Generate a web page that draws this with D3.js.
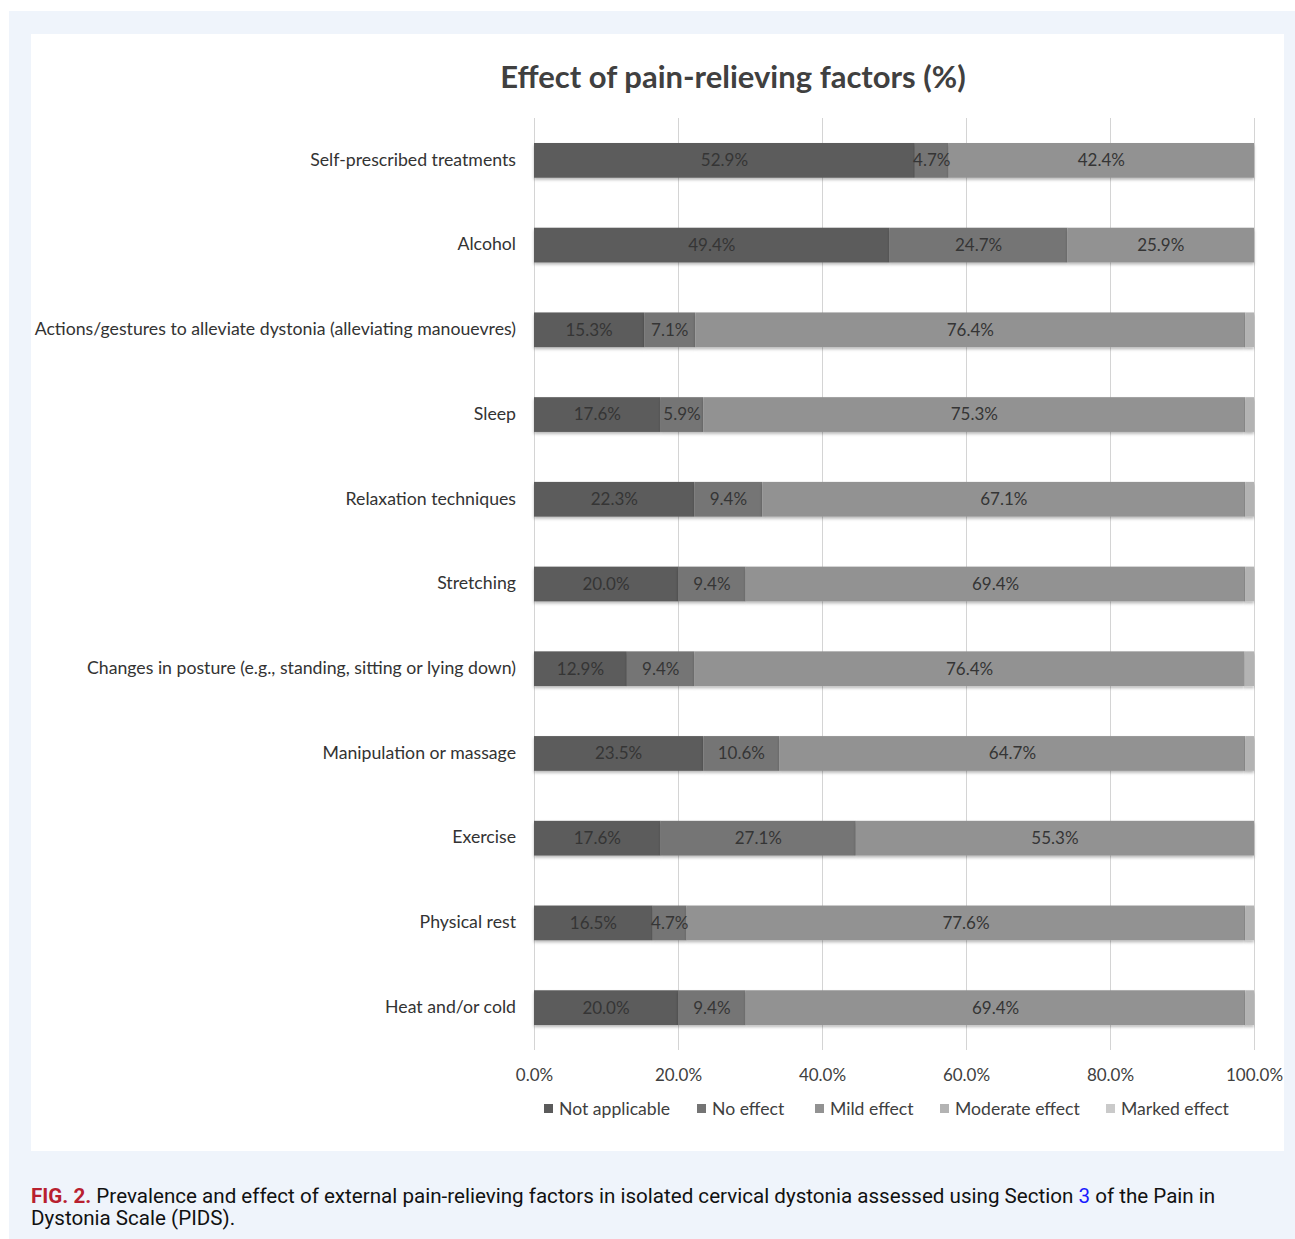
<!DOCTYPE html>
<html><head><meta charset="utf-8">
<script src="https://cdn.jsdelivr.net/npm/d3@7"></script>
<style>
html,body{margin:0;padding:0;background:#fff;}
svg{display:block;}
</style></head>
<body>
<svg id="chart" width="1295" height="1239"></svg>
<script>
const categories = [
  "Self-prescribed treatments",
  "Alcohol",
  "Actions/gestures to alleviate dystonia (alleviating manouevres)",
  "Sleep",
  "Relaxation techniques",
  "Stretching",
  "Changes in posture (e.g., standing, sitting or lying down)",
  "Manipulation or massage",
  "Exercise",
  "Physical rest",
  "Heat and/or cold"
];
const seriesNames = ["Not applicable","No effect","Mild effect","Moderate effect","Marked effect"];
const notApplicable = [52.9,49.4,15.3,17.6,22.3,20.0,12.9,23.5,17.6,16.5,20.0];
const noEffect      = [4.7,24.7,7.1,5.9,9.4,9.4,9.4,10.6,27.1,4.7,9.4];
const mildEffect    = [42.4,25.9,76.4,75.3,67.1,69.4,76.4,64.7,55.3,77.6,69.4];
const moderateEffect= [0,0,1.2,1.2,1.2,1.2,1.3,1.2,0,1.2,1.2];
const markedEffect  = [0,0,0,0,0,0,0,0,0,0,0];
const xTicks = [0,20,40,60,80,100];
const seriesColors = ["#5b5b5b","#747474","#929292","#b3b3b3","#cacaca"];

const rows = categories.map((c,i)=>({cat:c, "Not applicable":notApplicable[i], "No effect":noEffect[i],
  "Mild effect":mildEffect[i], "Moderate effect":moderateEffect[i], "Marked effect":markedEffect[i]}));

const svg = d3.select("#chart");
svg.append("rect").attr("x",9).attr("y",11).attr("width",1286).attr("height",1228).attr("fill","#eff4fb");
svg.append("rect").attr("x",31).attr("y",34).attr("width",1253).attr("height",1117).attr("fill","#ffffff");

const defs = svg.append("defs");
const f = defs.append("filter").attr("id","sh").attr("x","-5%").attr("y","-30%").attr("width","110%").attr("height","170%");
f.append("feDropShadow").attr("dx",0).attr("dy",2).attr("stdDeviation",1.5).attr("flood-color","#000").attr("flood-opacity",0.28);

const x = d3.scaleLinear().domain([0,100]).range([534,1254]);
const y = d3.scaleBand().domain(categories).range([118,1050]).paddingInner(0.59).paddingOuter(0.295);
const color = d3.scaleOrdinal().domain(seriesNames).range(seriesColors);

svg.append("text").attr("x",733).attr("y",88).attr("text-anchor","middle")
  .attr("font-family","Lato").attr("font-weight","bold").attr("font-size",31).attr("fill","#404040")
  .text("Effect of pain-relieving factors (%)");

const gx = svg.append("g").attr("transform","translate(0,1050)")
  .call(d3.axisBottom(x).tickValues(xTicks).tickSize(-932).tickFormat(d=>d.toFixed(1)+"%"));
gx.select(".domain").remove();
gx.selectAll(".tick line").attr("stroke","#d4d4d4").attr("stroke-width",1);
gx.selectAll(".tick text").attr("dy",0).attr("y",31).attr("font-family","Lato").attr("font-size",17).attr("fill","#404040");

const stack = d3.stack().keys(seriesNames)(rows);

const layers = svg.append("g").selectAll("g").data(stack).join("g").attr("fill",d=>color(d.key));
layers.selectAll("rect").data(d=>d).join("rect")
  .attr("x",d=>x(d[0])).attr("width",d=>x(d[1])-x(d[0]))
  .attr("y",d=>y(d.data.cat)).attr("height",y.bandwidth())
  .attr("filter","url(#sh)");

const lab = svg.append("g").attr("font-family","Lato").attr("font-size",17).attr("fill","#353535").attr("text-anchor","middle");
stack.forEach(s=>{
  s.forEach(d=>{
    const v = d[1]-d[0];
    if (v >= 3) {
      lab.append("text").attr("x",(x(d[0])+x(d[1]))/2).attr("y",y(d.data.cat)+y.bandwidth()/2).attr("dy","0.35em").text(v.toFixed(1)+"%");
    }
  });
});

svg.append("g").selectAll("text").data(categories).join("text")
  .attr("x",516).attr("y",d=>y(d)+y.bandwidth()/2).attr("dy","0.3em")
  .attr("text-anchor","end").attr("font-family","Lato").attr("font-size",17.7).attr("fill","#333")
  .text(d=>d);

const legX = [544,697,815,940,1106];
const leg = svg.append("g").selectAll("g").data(seriesNames).join("g")
  .attr("transform",(d,i)=>`translate(${legX[i]},1109)`);
leg.append("rect").attr("x",0).attr("y",-5).attr("width",9).attr("height",9).attr("fill",d=>color(d));
leg.append("text").attr("x",15).attr("y",0).attr("dy","0.35em").attr("font-family","Lato").attr("font-size",17.6).attr("fill","#404040").text(d=>d);

const cap = svg.append("text").attr("x",31).attr("y",1203).attr("font-family","Roboto").attr("font-size",20.6).attr("fill","#111");
cap.append("tspan").attr("fill","#b8202f").attr("font-weight","bold").text("FIG. 2.");
cap.append("tspan").text(" Prevalence and effect of external pain-relieving factors in isolated cervical dystonia assessed using Section ");
cap.append("tspan").attr("fill","#1a1aff").text("3");
cap.append("tspan").text(" of the Pain in");
svg.append("text").attr("x",31).attr("y",1225).attr("font-family","Roboto").attr("font-size",20.6).attr("fill","#111").text("Dystonia Scale (PIDS).");
</script>
</body></html>
